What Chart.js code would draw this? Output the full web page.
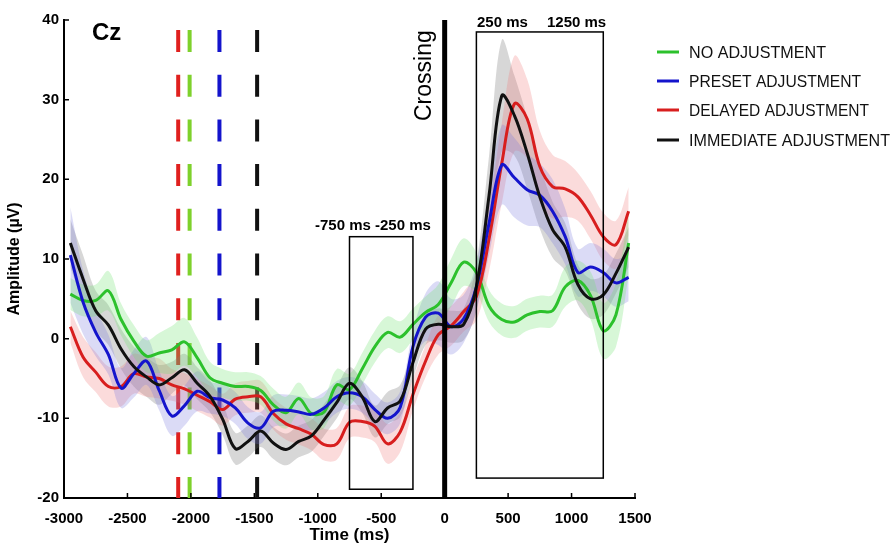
<!DOCTYPE html>
<html>
<head>
<meta charset="utf-8">
<script src="https://cdn.jsdelivr.net/npm/chart.js@4"></script>
<style>
  html, body { margin: 0; padding: 0; background: #fff; }
  #wrap { width: 891px; height: 550px; position: relative; }
</style>
</head>
<body>
<div id="wrap"><canvas id="erp"></canvas></div>
<script>
// time points (ms) shared by every condition
const times = [-2950, -2850, -2750, -2650, -2550, -2450, -2350, -2250, -2150, -2050,
  -1950, -1850, -1750, -1650, -1550, -1450, -1350, -1250, -1150, -1050,
  -950, -850, -750, -650, -550, -450, -350, -250, -150, -50,
  50, 150, 250, 350, 450, 550, 650, 750, 850, 950,
  1050, 1150, 1250, 1350, 1450];

const noAdj = [5.6, 4.8, 4.8, 6, 2.4, -0.3, -2.2, -1.8, -1.4, -0.4,
  -2.4, -4.9, -5.6, -6, -6, -6.5, -8.3, -9.3, -7.5, -9.4,
  -9.2, -5.8, -6.4, -3.8, -1, 0.8, 0.2, 1.8, 3.3, 4.3,
  7, 9.6, 8.3, 4.1, 2.4, 2.1, 3, 3.4, 3.5, 6.5,
  7.3, 5.4, 1, 3, 12];
const presetAdj = [10.5, 4.6, 0.8, -2, -6.2, -4.4, -2.8, -6.5, -9.7, -8.4,
  -6.6, -7.4, -7.7, -8.7, -10.6, -11.2, -9.1, -9, -9.2, -9.5,
  -8.7, -7.3, -6.8, -7.3, -8.9, -10, -8.6, -1, 2.7, 3.2,
  1.5, 2.5, 6.5, 14.5, 21.8, 20.2, 18.7, 18, 16, 12.8,
  8.3, 9, 8.3, 7, 7.7];
const delayedAdj = [1.5, -2.3, -4.2, -6, -6, -4.4, -4.8, -5, -5.8, -6.3,
  -7.1, -7.9, -8.9, -7.6, -7.3, -7.3, -9.4, -10.7, -11.3, -12,
  -13.3, -13.2, -10.5, -10.4, -11, -13.2, -11.7, -7, -2.8, 0.5,
  1.6, 3.4, 5.3, 12.5, 22, 29.5, 27.6, 21.6, 19.1, 18.8,
  17.8, 15.5, 12.8, 11.8, 16];
const immediateAdj = [12, 7.5, 3.5, 1.7, -1.3, -3.5, -4.8, -5.8, -4.9, -3.9,
  -5.6, -7.2, -10.1, -13.8, -12.9, -11.6, -13.1, -13.9, -12.9, -12.2,
  -10.2, -8, -5.6, -7.3, -10.4, -8.7, -7.8, -3, 1.2, 1.8,
  1.5, 1.8, 6.5, 18, 30.5, 28, 23.3, 17.8, 13.7, 11.5,
  6.8, 5, 5.5, 8.2, 11.5];

// half-width of the shaded error bands
const semNo = [2, 2, 2, 2.5, 2, 2, 2, 2.5, 3, 3, 2.5, 2, 1.8, 1.8, 1.8, 1.8, 2, 2, 2, 2,
  2, 2, 2, 2, 2, 2, 2, 2, 2, 2.5, 3, 3, 2.5, 2, 2, 2, 2, 2, 2, 2.5, 2.5, 3, 3.5, 4, 4];
const semPreset = [6, 4, 3, 2.5, 2.5, 3, 3, 2.5, 2.5, 2.5, 2.5, 2, 2, 2, 2, 2, 2, 2, 2, 2,
  2, 2, 2, 2, 2, 2, 2, 2, 3, 4, 3.5, 3, 3, 4, 5, 5, 4.5, 4, 4, 3.5, 3, 3, 3, 3, 3];
const semDelayed = [2, 2.5, 2.5, 2.5, 2.5, 2.5, 2.5, 2.5, 2, 2, 2, 2, 2, 2, 2, 2, 2, 2, 2, 2,
  2, 2, 2, 2, 2, 2.5, 2.5, 2, 2, 2.5, 2.5, 2.5, 3, 4, 5, 6, 5, 4.5, 4, 3.5, 3, 3, 3, 3, 3];
const semImmediate = [3, 3, 2.5, 2.5, 2.5, 2.5, 2.5, 2.5, 2, 2, 2, 2, 2, 2, 2, 2, 2, 2, 2, 2,
  2, 2, 2, 2, 2, 2, 2, 2, 2, 2, 2, 2, 3, 5, 7, 5, 4.5, 4, 3.5, 3, 2.5, 2.5, 2.5, 2.5, 2.5];

const seriesLabels = ["NO ADJUSTMENT", "PRESET ADJUSTMENT", "DELAYED ADJUSTMENT", "IMMEDIATE ADJUSTMENT"];
const xTicks = [-3000, -2500, -2000, -1500, -1000, -500, 0, 500, 1000, 1500];
const yTicks = [-20, -10, 0, 10, 20, 30, 40];

// adjustment onsets (dashed lines) and analysis windows
const onsetTimes = [-2100, -2010, -1775, -1478];
const windowEarly = [-750, -250];
const windowLate = [250, 1250];

const FONT = "'Liberation Sans', Arial, sans-serif";
const lineColors = ["#2cc12c", "#1414cc", "#d81e1e", "#111111"];
const bandColors = ["rgba(110,225,110,0.28)", "rgba(110,110,220,0.25)", "rgba(240,110,110,0.25)", "rgba(110,110,110,0.28)"];
const dashColors = ["#e0201e", "#7ed12c", "#1414cc", "#111111"];

function pts(vals, sem, sign) {
  return times.map((t, i) => ({ x: t, y: sem ? vals[i] + sign * sem[i] : vals[i] }));
}

function buildDatasets() {
  const all = [noAdj, presetAdj, delayedAdj, immediateAdj];
  const sems = [semNo, semPreset, semDelayed, semImmediate];
  const ds = [];
  all.forEach((vals, k) => {
    ds.push({ data: pts(vals, sems[k], 1), borderWidth: 0, pointRadius: 0, tension: 0.35, fill: false, order: 20 });
    ds.push({ data: pts(vals, sems[k], -1), borderWidth: 0, pointRadius: 0, tension: 0.35,
      fill: "-1", backgroundColor: bandColors[k], order: 20 });
  });
  [3, 1, 2, 0].forEach((k, j) => {
    ds.push({ label: seriesLabels[k], data: pts(all[k]), borderColor: lineColors[k], borderWidth: 3,
      pointRadius: 0, tension: 0.35, fill: false, order: j });
  });
  return ds;
}

const decorations = {
  id: "decorations",
  beforeDatasetsDraw(chart) {
    const { ctx, scales: { x } } = chart;
    ctx.save();
    ctx.lineWidth = 4;
    ctx.setLineDash([22, 22.7]);
    onsetTimes.forEach((t, i) => {
      const px = x.getPixelForValue(t);
      ctx.strokeStyle = dashColors[i];
      ctx.beginPath();
      ctx.moveTo(px, 30);
      ctx.lineTo(px, 498);
      ctx.stroke();
    });
    ctx.restore();
  },
  afterDatasetsDraw(chart) {
    const { ctx, chartArea: a, scales: { x, y } } = chart;
    ctx.save();
    // crossing line
    ctx.strokeStyle = "#000";
    ctx.lineWidth = 5;
    ctx.beginPath();
    ctx.moveTo(x.getPixelForValue(0), a.top);
    ctx.lineTo(x.getPixelForValue(0), a.bottom);
    ctx.stroke();

    // windows
    ctx.lineWidth = 1.5;
    const box = (win, top, bottom) => {
      const l = x.getPixelForValue(win[0]), r = x.getPixelForValue(win[1]);
      const t = y.getPixelForValue(top), b = y.getPixelForValue(bottom);
      ctx.strokeRect(l, t, r - l, b - t);
    };
    box(windowEarly, 12.8, -18.9);
    box(windowLate, 38.5, -17.5);

    ctx.fillStyle = "#000";
    ctx.font = `bold 15px ${FONT}`;
    ctx.textBaseline = "alphabetic";
    ctx.textAlign = "left";
    ctx.fillText(`${windowEarly[0]} ms ${windowEarly[1]} ms`, 315, 230, 125);
    ctx.fillText(`${windowLate[0]} ms`, 477, 27, 55);
    ctx.fillText(`${windowLate[1]} ms`, 547, 27, 63);

    ctx.font = `bold 24px ${FONT}`;
    ctx.fillText("Cz", 92, 40);

    ctx.save();
    ctx.translate(431, 121);
    ctx.rotate(-Math.PI / 2);
    ctx.font = `23px ${FONT}`;
    ctx.fillText("Crossing", 0, 0);
    ctx.restore();

    // inward tick marks
    ctx.lineWidth = 1.5;
    ctx.beginPath();
    xTicks.forEach((t) => {
      const px = x.getPixelForValue(t);
      ctx.moveTo(px, a.bottom);
      ctx.lineTo(px, a.bottom - 5);
    });
    yTicks.forEach((v) => {
      const py = y.getPixelForValue(v);
      ctx.moveTo(a.left, py);
      ctx.lineTo(a.left + 5, py);
    });
    ctx.stroke();
    ctx.restore();
  },
  afterDraw(chart) {
    const { ctx } = chart;
    const rows = [52, 81, 110, 140];
    const widths = [137, 172, 180, 201];
    ctx.save();
    ctx.font = `17px ${FONT}`;
    ctx.textBaseline = "middle";
    ctx.textAlign = "left";
    seriesLabels.forEach((lbl, i) => {
      ctx.strokeStyle = lineColors[i];
      ctx.lineWidth = 3;
      ctx.beginPath();
      ctx.moveTo(657, rows[i]);
      ctx.lineTo(679, rows[i]);
      ctx.stroke();
      ctx.fillStyle = "#111";
      ctx.fillText(lbl, 689, rows[i] + 1, widths[i]);
    });
    ctx.restore();
  },
};

function init() {
  const canvas = document.getElementById("erp");
  new Chart(canvas, {
    type: "line",
    data: { datasets: buildDatasets() },
    options: {
      responsive: true,
      maintainAspectRatio: false,
      animation: false,
      layout: { padding: { left: 0, right: 256, top: 20, bottom: 0 } },
      plugins: { legend: { display: false }, tooltip: { enabled: false } },
      scales: {
        x: {
          type: "linear",
          min: -3000,
          max: 1500,
          afterFit: (s) => { s.height = 52; },
          afterBuildTicks: (s) => { s.ticks = xTicks.map((v) => ({ value: v })); },
          ticks: { color: "#000", padding: 12, callback: (v) => String(v),
            font: { family: FONT, size: 15, weight: "bold" } },
          grid: { display: false, drawTicks: false },
          border: { display: true, color: "#000", width: 2 },
          title: { display: true, text: "Time (ms)", color: "#000", padding: { top: 0, bottom: 4 },
            font: { family: FONT, size: 17, weight: "bold" } },
        },
        y: {
          min: -20,
          max: 40,
          afterFit: (s) => { s.width = 64; },
          afterBuildTicks: (s) => { s.ticks = yTicks.map((v) => ({ value: v })); },
          ticks: { color: "#000", padding: 5, callback: (v) => String(v),
            font: { family: FONT, size: 15, weight: "bold" } },
          grid: { display: false, drawTicks: false },
          border: { display: true, color: "#000", width: 2 },
          title: { display: true, text: "Amplitude (µV)", color: "#000", padding: { top: 5, bottom: 0 },
            font: { family: FONT, size: 16, weight: "bold" } },
        },
      },
    },
    plugins: [decorations],
  });
}

init();
</script>
</body>
</html>
